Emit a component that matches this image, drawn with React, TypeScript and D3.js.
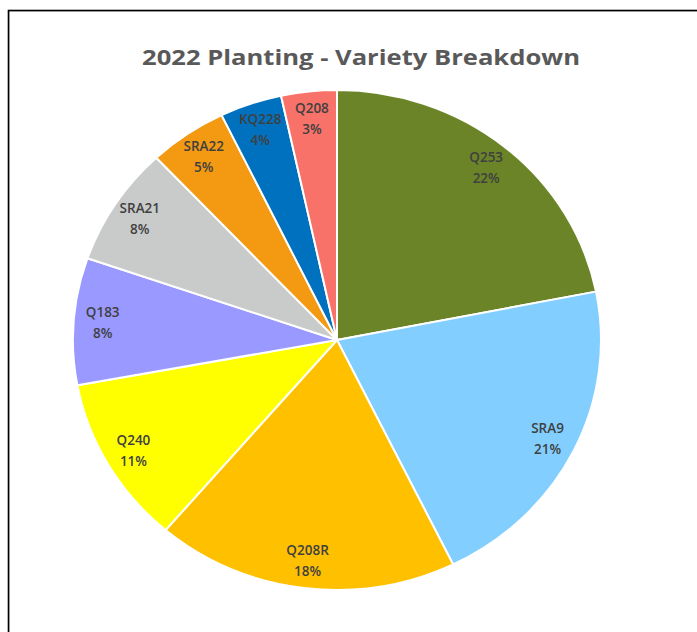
import React from "react";
import * as d3 from "d3";

const title = "2022 Planting - Variety Breakdown";
const varieties = ["Q253", "SRA9", "Q208R", "Q240", "Q183", "SRA21", "SRA22", "KQ228", "Q208"];
const shares = [21.9, 20.85, 18.5, 10.85, 8.2, 7.7, 4.8, 3.8, 3.4];
const shareLabels = ["22%", "21%", "18%", "11%", "8%", "8%", "5%", "4%", "3%"];
const colors = ["#6B8427", "#82CFFF", "#FFC000", "#FFFF00", "#9999FF", "#C9CACA", "#F39A12", "#0071BF", "#F8726A"];

const W = 697;
const H = 632;
const cx = 337;
const cy = 340;
const ry = 250;
const rx = 264;

export default function App() {
  const data = varieties.map((v, i) => ({ name: v, value: shares[i], label: shareLabels[i], color: colors[i] }));
  const pie = d3.pie<any>().value((d) => d.value).sort(null);
  const arcs = pie(data);
  const arc = d3.arc<any>().innerRadius(0).outerRadius(ry);
  const labelArc = d3.arc<any>().innerRadius(ry * 0.89).outerRadius(ry * 0.89);
  const sx = rx / ry;

  return (
    <svg width={W} height={H} style={{ position: "absolute", left: 0, top: 0 }}>
      <rect x={0} y={0} width={W} height={H} fill="#fff" />
      <rect x={9.5} y={11.5} width={W + 20} height={H + 20} fill="none" stroke="#d8d8d8" strokeWidth={1} />
      <rect x={8.5} y={10.5} width={W + 20} height={H + 20} fill="none" stroke="#000" strokeWidth={1.6} />
      <text
        x={361}
        y={65}
        textAnchor="middle"
        fontFamily="'Open Sans', sans-serif"
        fontWeight={700}
        fontSize={22}
        fill="#595959"
        textLength={438}
        lengthAdjust="spacingAndGlyphs"
      >
        {title}
      </text>
      <g transform={`translate(${cx},${cy}) scale(${sx},1)`}>
        {arcs.map((a, i) => (
          <path key={i} d={arc(a) || ""} fill={a.data.color} stroke="#fff" strokeWidth={2} vectorEffect="non-scaling-stroke" />
        ))}
      </g>
      <g>
        {arcs.map((a, i) => {
          const [lx, ly] = labelArc.centroid(a);
          const x = cx + lx * sx;
          const y = cy + ly;
          return (
            <text
              key={i}
              x={x}
              y={y}
              textAnchor="middle"
              fontFamily="'Open Sans', sans-serif"
              fontWeight={600}
              fontSize={13.5}
              fill="#404040"
            >
              <tspan x={x} dy={-6}>{a.data.name}</tspan>
              <tspan x={x} dy={21}>{a.data.label}</tspan>
            </text>
          );
        })}
      </g>
    </svg>
  );
}
